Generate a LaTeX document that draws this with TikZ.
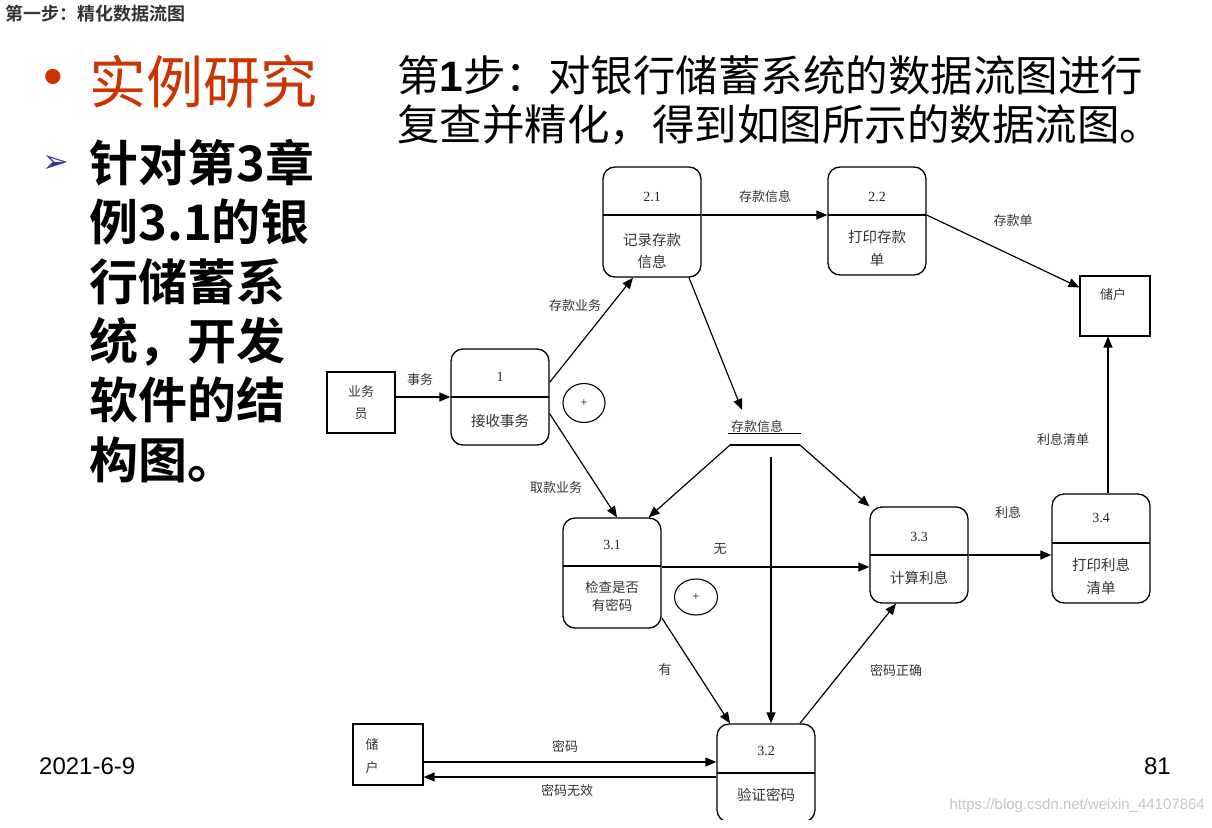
\documentclass[tikz,border=0pt]{standalone}
\usepackage{fontspec}
\setmainfont{Liberation Serif}
\newfontfamily\cjk{Noto Sans CJK SC}
\newfontfamily\cjkb{Noto Sans CJK SC Bold}
\newfontfamily\arial{Liberation Sans}
\newfontfamily\dejavu{DejaVu Sans}
\usetikzlibrary{arrows.meta,shapes.geometric,calc}
\definecolor{titlered}{HTML}{CC3300}
\definecolor{bulletblue}{HTML}{333399}
\definecolor{hdrgray}{HTML}{333333}
\begin{document}
\begin{tikzpicture}[x=1pt,y=-1pt,
  proc/.style={draw, rounded corners=12pt, line width=1.3pt, minimum width=98pt, inner sep=0pt},
  ext/.style={draw, line width=1.1pt, inner sep=0pt},
  flow/.style={-{Triangle[length=11pt,width=9pt]}, line width=1.2pt},
  lbl/.style={font=\cjk\fontsize{13}{15}\selectfont, text=black!80, inner sep=0pt},
  ptxt/.style={font=\cjk\fontsize{14.5}{17}\selectfont, text=black!80, inner sep=0pt},
  pnum/.style={font=\fontsize{14}{16}\selectfont, text=black!85, inner sep=0pt},
  plus/.style={draw, ellipse, line width=1.1pt, inner sep=0pt, font=\fontsize{12}{12}\selectfont},
  divider/.style={line width=1.2pt},
  lefttxt/.style={anchor=west, inner sep=0pt, font=\cjkb\fontsize{49}{52}\selectfont},
  righttxt/.style={anchor=west, inner sep=0pt, font=\cjk\fontsize{42.5}{44}\selectfont}
]
\useasboundingbox (0,0) rectangle (1212,827);
\fill[white] (0,0) rectangle (1212,827);

% ---------- header and left text ----------
\node[anchor=west, inner sep=0pt, text=hdrgray, font=\cjkb\fontsize{18}{20}\selectfont] (hdr) at (5,14) {第一步：精化数据流图};
\node[inner sep=0pt, text=titlered, font=\arial\fontsize{56}{56}\selectfont] (bul) at (53,82) {•};
\node[anchor=west, inner sep=0pt, text=titlered, font=\cjk\fontsize{57}{60}\selectfont] (ttl) at (89,82) {实例研究};
\node[inner sep=0pt, text=bulletblue, font=\dejavu\fontsize{32}{34}\selectfont] (arr) at (56,164) {➢};
\node[lefttxt] (l1) at (89,163) {针对第3章};
\node[lefttxt] (l2) at (89,222) {例3.1的银};
\node[lefttxt] (l3) at (89,282) {行储蓄系};
\node[lefttxt] (l4) at (89,342) {统，开发};
\node[lefttxt] (l5) at (89,400) {软件的结};
\node[lefttxt] (l6) at (89,460) {构图。};

% ---------- right title ----------
\node[righttxt] (r1) at (397,75) {第{\arial\bfseries 1}步：对银行储蓄系统的数据流图进行};
\node[righttxt] (r2) at (397,125) {复查并精化，得到如图所示的数据流图。};

% ---------- external entities ----------
\node[ext, minimum width=68pt, minimum height=61pt] (yw) at (361,402.5) {};
\node[lbl] (ywa) at (361,392) {业务};
\node[lbl] (ywb) at (361,414) {员};
\node[ext, minimum width=70pt, minimum height=60pt] (ch) at (1115,306) {};
\node[lbl] (cht) at (1113,295) {储户};
\node[ext, minimum width=70pt, minimum height=61pt] (ch2) at (388,754.5) {};
\node[lbl] (ch2a) at (372,745) {储};
\node[lbl] (ch2b) at (372,768) {户};

% ---------- processes ----------
\node[proc, minimum height=96pt] (p1) at (500,397) {};
\draw[divider] (451,397) -- (549,397);
\node[pnum] (p1n) at (500,377) {1};
\node[ptxt] (p1t) at (500,421) {接收事务};

\node[proc, minimum height=110pt] (p21) at (652,222) {};
\draw[divider] (603,215) -- (701,215);
\node[pnum] (p21n) at (652,197) {2.1};
\node[ptxt] (p21a) at (652,240) {记录存款};
\node[ptxt] (p21b) at (652,262) {信息};

\node[proc, minimum height=108pt] (p22) at (877,221) {};
\draw[divider] (828,215) -- (926,215);
\node[pnum] (p22n) at (877,197) {2.2};
\node[ptxt] (p22a) at (877,237) {打印存款};
\node[ptxt] (p22b) at (877,260) {单};

\node[proc, minimum height=110pt] (p31) at (612,573) {};
\draw[divider] (563,566) -- (661,566);
\node[pnum] (p31n) at (612,545) {3.1};
\node[ptxt, font=\cjk\fontsize{13.5}{15}\selectfont] (p31a) at (612,587) {检查是否};
\node[ptxt, font=\cjk\fontsize{13.5}{15}\selectfont] (p31b) at (612,605) {有密码};

\node[proc, minimum height=96pt] (p33) at (919,555) {};
\draw[divider] (870,555) -- (968,555);
\node[pnum] (p33n) at (919,537) {3.3};
\node[ptxt] (p33t) at (919,578) {计算利息};

\node[proc, minimum height=109pt] (p34) at (1101,548.5) {};
\draw[divider] (1052,543) -- (1150,543);
\node[pnum] (p34n) at (1101,518) {3.4};
\node[ptxt] (p34a) at (1101,565) {打印利息};
\node[ptxt] (p34b) at (1101,588) {清单};

\begin{scope}
\clip (0,0) rectangle (1212,819);
\node[proc, minimum height=98pt] (p32) at (766,773) {};
\draw[divider] (717,773) -- (815,773);
\end{scope}
\node[pnum] (p32n) at (766,751) {3.2};
\node[ptxt] (p32t) at (766,795) {验证密码};

% ---------- data store ----------
\node[lbl] (ds) at (757,427) {存款信息};
\draw[line width=1pt] (728,433) -- (801,433);
\coordinate (dsl) at (730,445);
\coordinate (dsr) at (800,445);
\coordinate (dsv) at (771,457);
\coordinate (dsin) at (742,410);
\draw[line width=1.2pt] (dsl) -- (dsr);

% ---------- plus circles ----------
\node[plus, minimum width=42pt, minimum height=39pt] (c1) at (584,403) {+};
\node[plus, minimum width=43pt, minimum height=36pt] (c2) at (696,597) {+};

% ---------- flows ----------
\draw[flow] ([yshift=5.5pt]yw.east) -- (p1.west);
\draw[flow] ([yshift=-34pt]p1.north east) -- ([xshift=-19pt]p21.south);
\draw[flow] ([yshift=32pt]p1.south east) -- ([xshift=5pt]p31.north);
\draw[flow] ([yshift=7pt]p21.east) -- ([yshift=6pt]p22.west);
\draw[flow] ([yshift=6pt]p22.east) -- ([yshift=-12pt]ch.north west);
\draw[flow] ([xshift=37pt]p21.south) -- (dsin);
\draw[flow] (dsl) -- ([xshift=-13pt]p31.north east);
\draw[flow] (dsr) -- (p33.north west);
\draw[flow] (dsv) -- ([xshift=5pt]p32.north);
\draw[flow] ([yshift=6pt]p31.east) -- ([yshift=-12pt]p33.west);
\draw[flow] ([yshift=11pt]p31.south east) -- ([xshift=-36pt]p32.north);
\draw[flow] ([xshift=34pt]p32.north) -- ([xshift=-23pt]p33.south);
\draw[flow] (p33.east) -- ([yshift=-6.5pt]p34.west);
\draw[flow] ([xshift=7pt]p34.north) -- ([xshift=-7pt]ch.south);
\draw[flow] ([yshift=-7.5pt]ch2.east) -- ([yshift=11pt]p32.west);
\draw[flow] ([yshift=-4pt]p32.west) -- ([yshift=-22.5pt]ch2.east);

% ---------- flow labels ----------
\node[lbl] (f1) at (420,380) {事务};
\node[lbl] (f2) at (575,306) {存款业务};
\node[lbl] (f3) at (556,488) {取款业务};
\node[lbl] (f4) at (765,197) {存款信息};
\node[lbl] (f5) at (1013,221) {存款单};
\node[lbl] (f6) at (720,549) {无};
\node[lbl] (f7) at (665,670) {有};
\node[lbl] (f8) at (896,670) {密码正确};
\node[lbl] (f9) at (1008,512) {利息};
\node[lbl] (f10) at (1063,439) {利息清单};
\node[lbl] (f11) at (565,746) {密码};
\node[lbl] (f12) at (567,791) {密码无效};

% ---------- footer ----------
\node[anchor=west, inner sep=0pt, font=\arial\fontsize{24}{26}\selectfont] (date) at (39,766) {2021-6-9};
\node[anchor=east, inner sep=0pt, font=\arial\fontsize{24}{26}\selectfont] (pg) at (1171,766) {81};
\node[anchor=east, inner sep=0pt, text=black!22, font=\arial\fontsize{15}{17}\selectfont] (wm) at (1205,806) {https://blog.csdn.net/weixin\_44107864};
\end{tikzpicture}
\end{document}
